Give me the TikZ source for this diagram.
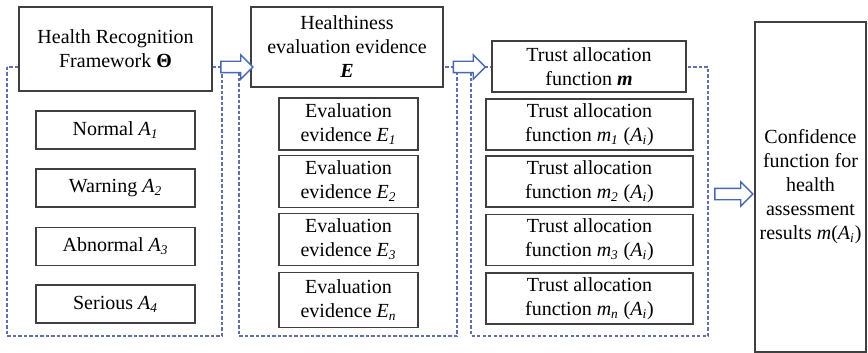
\documentclass[tikz,border=0pt]{standalone}
\usepackage{fontspec}
\setmainfont{Liberation Serif}
\usepackage{tikz}
\usetikzlibrary{shapes.arrows,backgrounds}
\definecolor{arrowblue}{RGB}{70,105,175}
\definecolor{frameblue}{RGB}{95,112,170}
\newcommand{\isub}[2]{\textit{#1}\textsubscript{\textit{#2}}}

\begin{document}
\begin{tikzpicture}[x=0.6pt,y=-0.6pt,
box/.style={draw=black!75,line width=0.8pt,fill=white,align=center,inner sep=1pt,font=\fontsize{12}{14.4}\selectfont},
framebox/.style={draw=frameblue,dash pattern=on 2pt off 1.3pt,line width=0.8pt},
blockarrow/.style={single arrow,draw=arrowblue,fill=white,line width=0.8pt,inner sep=3pt,single arrow head extend=3.9pt,single arrow head indent=0pt,minimum height=19.2pt}]
\useasboundingbox (0,0) rectangle (868,353);

\node[box,minimum width=115.8pt,minimum height=50.4pt] (hrf) at (115.5,49) {Health Recognition\\Framework \textbf{Θ}};
\node[box,minimum width=95.4pt,minimum height=22.8pt] (a1) at (115.5,130) {Normal \isub{A}{1}};
\node[box,minimum width=95.4pt,minimum height=22.8pt] (a2) at (115.5,188) {Warning \isub{A}{2}};
\node[box,minimum width=95.4pt,minimum height=22.8pt] (a3) at (115.5,246.5) {Abnormal \isub{A}{3}};
\node[box,minimum width=95.4pt,minimum height=22.8pt] (a4) at (115.5,304) {Serious \isub{A}{4}};

\node[box,minimum width=115.2pt,minimum height=48pt] (hee) at (347,47) {Healthiness\\evaluation evidence\\\textbf{\textit{E}}};
\node[box,minimum width=83.4pt,minimum height=31.2pt] (e1) at (348.5,124) {Evaluation\\evidence \isub{E}{1}};
\node[box,minimum width=83.4pt,minimum height=31.2pt] (e2) at (348.5,181.5) {Evaluation\\evidence \isub{E}{2}};
\node[box,minimum width=83.4pt,minimum height=31.2pt] (e3) at (348.5,239.5) {Evaluation\\evidence \isub{E}{3}};
\node[box,minimum width=83.4pt,minimum height=33pt] (en) at (348.5,300) {Evaluation\\evidence \isub{E}{n}};

\node[box,minimum width=116.4pt,minimum height=30.6pt] (taf) at (589,66.5) {Trust allocation\\function \textbf{\textit{m}}};
\node[box,minimum width=124.2pt,minimum height=30.6pt] (m1) at (589.5,124.5) {Trust allocation\\function \isub{m}{1} (\isub{A}{i})};
\node[box,minimum width=124.2pt,minimum height=30.6pt] (m2) at (589.5,181.5) {Trust allocation\\function \isub{m}{2} (\isub{A}{i})};
\node[box,minimum width=124.2pt,minimum height=30.6pt] (m3) at (589.5,240) {Trust allocation\\function \isub{m}{3} (\isub{A}{i})};
\node[box,minimum width=124.2pt,minimum height=30.6pt] (mn) at (589.5,298.5) {Trust allocation\\function \isub{m}{n} (\isub{A}{i})};

\node[box,minimum width=66.6pt,minimum height=198pt] (conf) at (810.5,187) {Confidence\\function for\\health\\assessment\\results \textit{m}(\isub{A}{i})};

\node[blockarrow] (ar1) at (234,67) {};
\node[blockarrow] (ar2) at (466.5,67) {};
\node[blockarrow,minimum height=22.8pt] (ar3) at (731,194) {};

\begin{scope}[on background layer]
\draw[framebox] (7,67) rectangle (222,336);
\draw[framebox] (239,67) rectangle (457,336);
\draw[framebox] (471,67) rectangle (708,336);
\end{scope}
\end{tikzpicture}
\end{document}
